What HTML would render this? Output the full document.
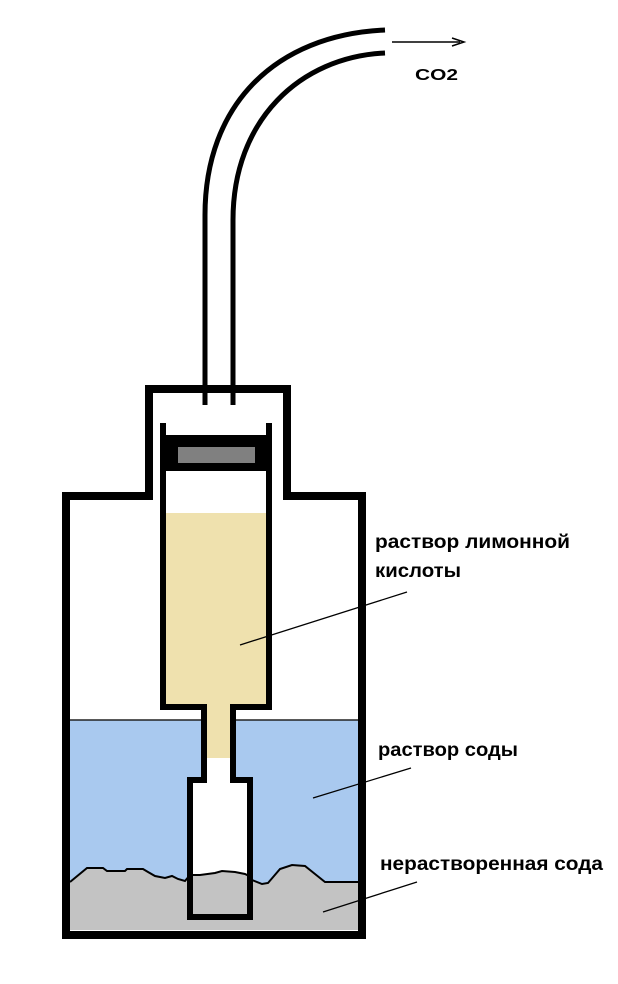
<!DOCTYPE html>
<html><head><meta charset="utf-8"><style>
html,body{margin:0;padding:0;background:#fff;}
svg{display:block;}
text{font-family:"Liberation Sans","DejaVu Sans",sans-serif;font-weight:bold;fill:#000;}
</style></head><body>
<svg width="618" height="984" viewBox="0 0 618 984" xmlns="http://www.w3.org/2000/svg">
<rect width="618" height="984" fill="#fff"/>
<rect x="70" y="720" width="290" height="210" fill="#a9c9ef"/>
<path d="M70 882 L87 868 L103 868 L107 871 L125 871 L127 869 L143 869 L148 872 L155 876 L165 878 L172 876 L178 879 L185 881 L190 875 L200 875 L215 873 L222 871 L235 872 L245 874 L252 880 L262 884 L268 883 L280 869 L292 865 L305 866 L315 874 L325 882 L360 882 L360 930 L70 930 Z" fill="#c3c3c3"/>
<path d="M70 882 L87 868 L103 868 L107 871 L125 871 L127 869 L143 869 L148 872 L155 876 L165 878 L172 876 L178 879 L185 881 L190 875 L200 875 L215 873 L222 871 L235 872 L245 874 L252 880 L262 884 L268 883 L280 869 L292 865 L305 866 L315 874 L325 882 L360 882" fill="none" stroke="#000" stroke-width="2"/>
<line x1="70" y1="720" x2="360" y2="720" stroke="#222" stroke-width="1.5"/>
<path d="M66 935 L66 496 L149 496 L149 389 L287 389 L287 496 L362 496 L362 935 Z" fill="none" stroke="#000" stroke-width="8"/>
<rect x="166" y="470" width="100" height="237" fill="#fff"/>
<rect x="166" y="513" width="100" height="194" fill="#efe1ae"/>
<rect x="207" y="707" width="23" height="51" fill="#efe1ae"/>
<rect x="207" y="758" width="23" height="22" fill="#fff"/>
<rect x="193" y="780" width="54" height="134" fill="#fff"/>
<path d="M193 875 L200 875 L215 873 L222 871 L235 872 L245 874 L247 875 L247 914 L193 914 Z" fill="#c3c3c3"/>
<path d="M190 875 L200 875 L215 873 L222 871 L235 872 L245 874 L249 876" fill="none" stroke="#000" stroke-width="2"/>
<path d="M163 423 L163 707 L204 707 L204 780 L190 780 L190 917 L250 917 L250 780 L233 780 L233 707 L269 707 L269 423" fill="none" stroke="#000" stroke-width="6"/>
<rect x="166" y="435" width="100" height="36" fill="#000"/>
<rect x="178" y="447" width="77" height="16" fill="#808080"/>
<path d="M205 405 L205 215 C205 105 275 35 385 30" fill="none" stroke="#000" stroke-width="5"/>
<path d="M233 405 L233 220 C233 120 300 57 385 53" fill="none" stroke="#000" stroke-width="5"/>
<line x1="392" y1="42" x2="460" y2="42" stroke="#000" stroke-width="1.5"/>
<path d="M452 38 L464 42 L452 46" fill="none" stroke="#000" stroke-width="1.5"/>
<text x="415" y="80" font-size="16" textLength="43" lengthAdjust="spacingAndGlyphs">CO2</text>
<text x="375" y="548" font-size="19" textLength="195" lengthAdjust="spacingAndGlyphs">раствор лимонной</text>
<text x="375" y="577" font-size="19" textLength="86" lengthAdjust="spacingAndGlyphs">кислоты</text>
<text x="378" y="756" font-size="19" textLength="140" lengthAdjust="spacingAndGlyphs">раствор соды</text>
<text x="380" y="870" font-size="19" textLength="223" lengthAdjust="spacingAndGlyphs">нерастворенная сода</text>
<line x1="407" y1="592" x2="240" y2="645" stroke="#000" stroke-width="1.3"/>
<line x1="411" y1="768" x2="313" y2="798" stroke="#000" stroke-width="1.3"/>
<line x1="417" y1="882" x2="323" y2="912" stroke="#000" stroke-width="1.3"/>
</svg>
</body></html>
